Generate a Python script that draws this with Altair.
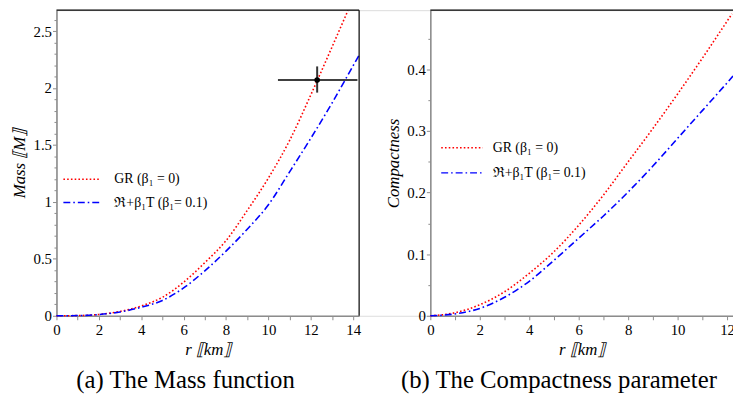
import altair as alt
import pandas as pd

# ---------------- data ----------------
GR_LABEL = "GR (β₁ = 0)"
RT_LABEL = "ℜ+β₁T (β₁= 0.1)"

# Mass function M(r)
mass_r_gr = [0, 1, 2, 3, 4, 5, 6, 7, 8, 9, 10, 11, 12, 13, 13.75]
mass_gr = [0, 0.002, 0.012, 0.038, 0.086, 0.163, 0.295, 0.467, 0.66, 0.925, 1.21, 1.54, 1.94, 2.36, 2.68]
mass_r_rt = [0, 1, 2, 3, 4, 5, 6, 7, 8, 9, 10, 11, 12, 13, 14, 14.28]
mass_rt = [0, 0.002, 0.011, 0.034, 0.075, 0.135, 0.245, 0.395, 0.568, 0.76, 0.975, 1.264, 1.559, 1.868, 2.197, 2.29]

# observational point with error bars
obs_r = [12.3]
obs_m = [2.07]
obs_r_lo = [10.45]
obs_r_hi = [14.2]
obs_m_lo = [1.96]
obs_m_hi = [2.19]

# Compactness C(r)
comp_r_gr = [0, 1, 2, 3, 4, 5, 6, 7, 8, 9, 10, 11, 12, 12.2]
comp_gr = [0, 0.005, 0.018, 0.039, 0.069, 0.104, 0.147, 0.196, 0.25, 0.304, 0.36, 0.418, 0.478, 0.49]
comp_r_rt = [0, 1, 2, 3, 4, 5, 6, 7, 8, 9, 10, 11, 12, 12.24]
comp_rt = [0, 0.003, 0.012, 0.03, 0.056, 0.09, 0.126, 0.162, 0.201, 0.243, 0.288, 0.333, 0.378, 0.389]

mass_x_ticks = list(range(0, 15))
mass_y_ticks = [round(i * 0.1, 1) for i in range(27)]
comp_x_ticks = list(range(0, 13))
comp_y_ticks = [round(i * 0.05, 2) for i in range(10)]

CAPTIONS = ["(a) The Mass function", "(b) The Compactness parameter"]

MASS_X_MAX, MASS_Y_MAX = 14.28, 2.684
COMP_X_MAX, COMP_Y_MAX = 12.24, 0.496

# ---------------- tables ----------------
mass_df = pd.concat([
    pd.DataFrame({"r": mass_r_gr, "v": mass_gr, "series": GR_LABEL}),
    pd.DataFrame({"r": mass_r_rt, "v": mass_rt, "series": RT_LABEL}),
])
comp_df = pd.concat([
    pd.DataFrame({"r": comp_r_gr, "v": comp_gr, "series": GR_LABEL}),
    pd.DataFrame({"r": comp_r_rt, "v": comp_rt, "series": RT_LABEL}),
])
obs_df = pd.DataFrame({"r": obs_r, "v": obs_m, "r_lo": obs_r_lo, "r_hi": obs_r_hi,
                       "v_lo": obs_m_lo, "v_hi": obs_m_hi})
one = pd.DataFrame({"k": [0]})

# ---------------- styling ----------------
SERIF = "Liberation Serif"
AXIS_GRAY = "#8c8c8c"
W_PANEL = 306
GAP = 72
H = 309

common_axis = dict(
    domainColor=AXIS_GRAY, domainWidth=1.6, tickColor=AXIS_GRAY, tickWidth=1,
    labelFont=SERIF, labelFontSize=15, labelColor="black", grid=False,
    labelOverlap=False, labelFlush=False,
    titleFont=SERIF, titleFontSize=17, titleFontStyle="italic",
    titleFontWeight="normal", titleColor="black",
)


def x_axis(values):
    return alt.Axis(
        values=values, orient="bottom", tickSize=4, labelPadding=3,
        labelExpr="datum.value % 2 == 0 ? datum.label : ''",
        title="r ⟦km⟧", titleBaseline="middle", titleY=34, **common_axis,
    )


def y_axis(values, step_mult, title, offset=0):
    test = f"abs(datum.value*{step_mult} - round(datum.value*{step_mult})) < 1e-6"
    return alt.Axis(
        values=values, orient="left", offset=offset,
        tickSize={"condition": {"test": test, "value": 4}, "value": 2.5},
        labelPadding=1,
        labelExpr=f"{test} ? format(datum.value, '~g') : ''",
        title=title, titleBaseline="middle", titleX=-37, titleAngle=-90,
        **common_axis,
    )


def legend(x, y, half_len, label_off, row_pad):
    # custom horizontal stroke symbol; unit path scaled by sqrt(size)/2 = 10
    return alt.Legend(
        orient="none", legendX=x, legendY=y, title=None,
        symbolType=f"M-{half_len},0H{half_len}", symbolSize=400, symbolStrokeWidth=1.5,
        labelFont=SERIF, labelFontSize=14, labelColor="black",
        labelOffset=label_off, rowPadding=row_pad, padding=0, labelLimit=300,
    )


COLOR_DOMAIN = [GR_LABEL, RT_LABEL]
COLOR_RANGE = ["#ff0000", "#0000ff"]
DASH_RANGE = [[1.6, 2.2], [7, 3, 1.6, 3]]


def panel(df, xmax, ymax, x_range, xt, yt, ystep, ytitle, yoffset, leg, extra=None):
    xs = alt.Scale(domain=[0, xmax], range=x_range, nice=False, zero=False)
    ys = alt.Scale(domain=[0, ymax], nice=False, zero=False)
    xa = x_axis(xt)
    ya = y_axis(yt, ystep, ytitle, yoffset)

    lines = alt.Chart(df).mark_line(strokeWidth=1.6, interpolate="monotone", strokeCap="butt").encode(
        x=alt.X("r:Q", scale=xs, axis=xa),
        y=alt.Y("v:Q", scale=ys, axis=ya),
        color=alt.Color("series:N", scale=alt.Scale(domain=COLOR_DOMAIN, range=COLOR_RANGE), legend=leg),
        strokeDash=alt.StrokeDash("series:N", scale=alt.Scale(domain=COLOR_DOMAIN, range=DASH_RANGE), legend=leg),
        order="r:Q",
    )
    top = alt.Chart(one).mark_rule(color="black", strokeWidth=1.2).encode(
        x=alt.datum(0, scale=xs, axis=xa), x2=alt.datum(xmax), y=alt.datum(ymax, scale=ys, axis=ya),
    )
    layers = [lines, top]
    if extra is not None:
        right = alt.Chart(one).mark_rule(color="black", strokeWidth=1.2).encode(
            x=alt.datum(xmax, scale=xs, axis=xa), y=alt.datum(0, scale=ys, axis=ya), y2=alt.datum(ymax),
        )
        hbar = alt.Chart(extra).mark_rule(color="black", strokeWidth=1.5).encode(
            x=alt.X("r_lo:Q", scale=xs, axis=xa), x2="r_hi:Q", y=alt.Y("v:Q", scale=ys, axis=ya),
        )
        vbar = alt.Chart(extra).mark_rule(color="#333333", strokeWidth=2).encode(
            x=alt.X("r:Q", scale=xs, axis=xa), y=alt.Y("v_lo:Q", scale=ys, axis=ya), y2="v_hi:Q",
        )
        pt = alt.Chart(extra).mark_circle(color="black", size=32, opacity=1).encode(
            x=alt.X("r:Q", scale=xs, axis=xa), y=alt.Y("v:Q", scale=ys, axis=ya),
        )
        layers += [right, hbar, vbar, pt]
    return alt.layer(*layers)


mass_panel = panel(mass_df, MASS_X_MAX, MASS_Y_MAX, [0, W_PANEL], mass_x_ticks, mass_y_ticks, 2,
                   "Mass ⟦M⟧", 0, legend(14.5, 160, 1.85, 22, 5.5), extra=obs_df)
comp_panel = panel(comp_df, COMP_X_MAX, COMP_Y_MAX, [W_PANEL + GAP, 2 * W_PANEL + GAP], comp_x_ticks,
                   comp_y_ticks, 10, "Compactness", -(W_PANEL + GAP),
                   legend(W_PANEL + GAP + 21, 128, 2.1, 20, 7.5))

cap_df = pd.DataFrame({"caption": CAPTIONS, "cx": [130.5, 508.0]})
captions = alt.Chart(cap_df).mark_text(font=SERIF, fontSize=25, color="black", baseline="middle", align="center").encode(
    x=alt.X("cx:Q", scale=alt.Scale(domain=[0, 2 * W_PANEL + GAP], range=[0, 2 * W_PANEL + GAP]), axis=None),
    y=alt.value(374),
    text="caption:N",
)

chart = alt.layer(mass_panel, comp_panel, captions).resolve_scale(
    x="independent", y="independent", color="independent", strokeDash="independent"
).resolve_legend(
    color="independent", strokeDash="independent"
).properties(
    width=2 * W_PANEL + GAP, height=H,
    autosize=alt.AutoSizeParams(type="none"),
    padding={"left": 49, "top": 0, "right": 0, "bottom": 88},
).configure_view(stroke=None).configure(background="white")

chart.save("out.html", embed_options={"renderer": "svg", "actions": False})
